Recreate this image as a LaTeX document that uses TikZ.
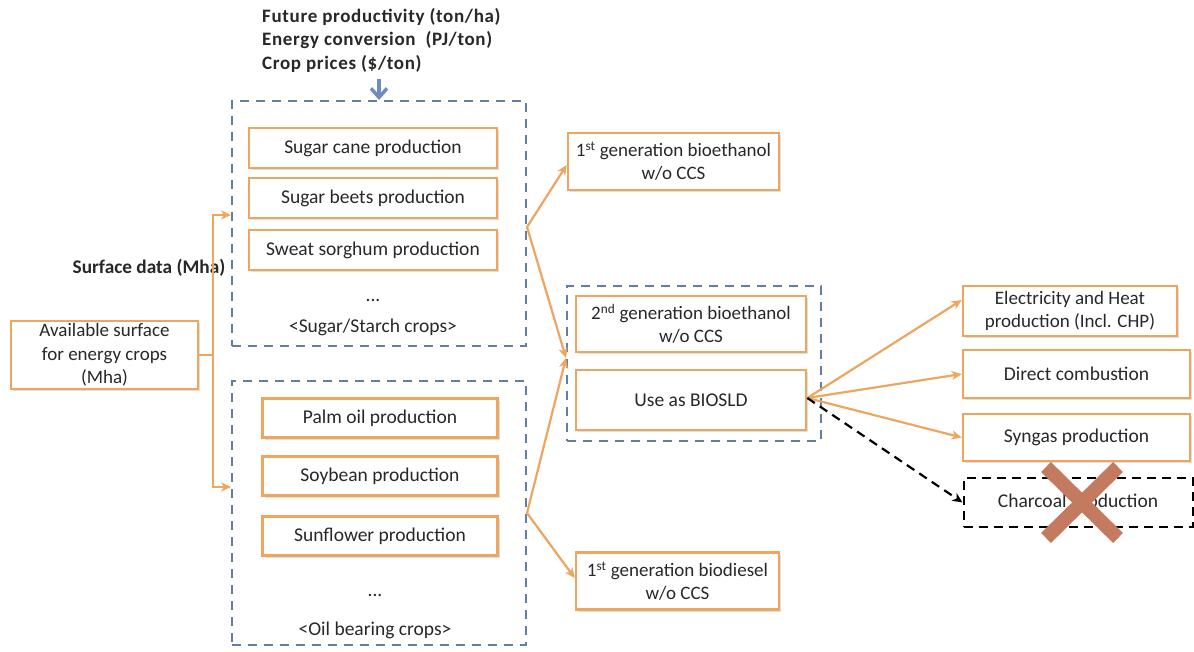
\documentclass[tikz,border=0pt]{standalone}
\usepackage{fontspec}
\setmainfont{Carlito}
\newfontfamily\topfont[LetterSpace=3.5]{Carlito}
\usetikzlibrary{arrows.meta,shadows}
\definecolor{ora}{RGB}{240,165,95}
\definecolor{blu}{RGB}{100,125,165}
\definecolor{blar}{RGB}{110,140,190}
\definecolor{txt}{RGB}{40,40,40}
\definecolor{xcol}{RGB}{195,122,95}
\tikzset{
  ob/.style={draw=ora, line width=2.6pt, fill=white, align=center, text=txt, inner sep=2pt,
    drop shadow={opacity=0.25, shadow xshift=2pt, shadow yshift=-2pt}},
  db/.style={draw=blu, line width=2pt, dash pattern=on 9pt off 7pt},
  oline/.style={draw=ora, line width=2.2pt},
  oarr/.style={oline, -{Stealth[length=10pt,width=9pt,inset=3pt]}},
  karr/.style={draw=black, line width=2.2pt, dash pattern=on 9pt off 6pt, -{Stealth[length=10pt,width=9pt,inset=3pt]}},
  lbl/.style={text=txt, align=center},
}
\begin{document}
\begin{tikzpicture}[x=1pt,y=-1pt, font=\fontsize{19.5}{23.5}\selectfont]
\path[use as bounding box, fill=white] (0,0) rectangle (1194,651);

% top text
\node[anchor=north west, align=left, text=txt, inner sep=0pt, font=\fontsize{19}{23.5}\topfont\bfseries] (topt) at (262,8)
  {Future productivity (ton/ha)\\Energy conversion\ \ (PJ/ton)\\Crop prices (\$/ton)};

% dashed groups
\node[db, minimum width=294pt, minimum height=245pt] (sugar) at (379,223.5) {};
\node[db, minimum width=294pt, minimum height=264pt] (oil) at (379,513) {};
\node[db, minimum width=254pt, minimum height=155pt] (grp3) at (694,363.5) {};

% sugar crops
\node[ob, minimum width=248pt, minimum height=40pt] (cane) at (373,148) {Sugar cane production};
\node[ob, minimum width=248pt, minimum height=40pt] (beet) at (373,198) {Sugar beets production};
\node[ob, minimum width=248pt, minimum height=40pt] (sorg) at (373,250) {Sweat sorghum production};
\node[lbl] (dots1) at (373,300) {...};
\node[lbl] (sgl) at (373,327) {<Sugar/Starch crops>};

% oil crops
\node[ob, minimum width=235pt, minimum height=39pt] (palm) at (380,418) {Palm oil production};
\node[ob, minimum width=235pt, minimum height=39pt] (soy) at (380,476) {Soybean production};
\node[ob, minimum width=235pt, minimum height=39pt] (sun) at (380,536) {Sunflower production};
\node[lbl] (dots2) at (375,595) {...};
\node[lbl] (oll) at (375,630) {<Oil bearing crops>};

% left
\node[anchor=center, text=txt, font=\fontsize{19.3}{22}\selectfont\bfseries] (surf) at (149,268) {Surface data (Mha)};
\node[ob, minimum width=187pt, minimum height=68pt, font=\fontsize{19}{23.5}\selectfont] (avail) at (104.5,355) {Available surface\\for energy crops\\(Mha)};

% middle
\node[ob, minimum width=211pt, minimum height=57pt, font=\fontsize{19}{23}\selectfont] (eth1) at (673.5,161.5) {1\textsuperscript{st} generation bioethanol\\w/o CCS};
\node[ob, minimum width=230pt, minimum height=56pt, font=\fontsize{19}{23}\selectfont] (eth2) at (691,324) {2\textsuperscript{nd} generation bioethanol\\w/o CCS};
\node[ob, minimum width=230pt, minimum height=60pt] (bsld) at (691,400) {Use as BIOSLD};
\node[ob, minimum width=203pt, minimum height=57pt, font=\fontsize{19}{23}\selectfont] (dies) at (677.5,581) {1\textsuperscript{st} generation biodiesel\\w/o CCS};

% right
\node[ob, minimum width=214pt, minimum height=50pt, font=\fontsize{19}{22.5}\selectfont] (elec) at (1070,311) {Electricity and Heat\\production (Incl. CHP)};
\node[ob, minimum width=227pt, minimum height=48pt] (comb) at (1076.5,374) {Direct combustion};
\node[ob, minimum width=227pt, minimum height=47pt] (syng) at (1076.5,437.5) {Syngas production};
\node[draw=black, line width=2pt, dash pattern=on 9pt off 6pt, fill=white, text=txt, minimum width=229pt, minimum height=49pt] (char) at (1078,502.5) {Charcoal production};

% cross
\draw[xcol, line width=14pt] (1046,467) -- (1118,538);
\draw[xcol, line width=14pt] (1118,467) -- (1046,538);

% blue input arrow
\draw[draw=blar, line width=3.5pt, -{Straight Barb[length=9pt,width=16pt]}] (sugar.north |- 0,79) -- (sugar.north);

% left connectors
\coordinate (j) at (213,355);
\draw[oline] (avail.east) -- (j);
\draw[oarr] (j) |- (sugar.west |- 0,215);
\draw[oarr] (j) |- (oil.west |- 0,487);

% sugar branch
\coordinate (sb) at (sugar.east |- 0,227);
\draw[oarr] (sb) -- (eth1.west |- 0,165);
\draw[oarr] (sb) -- (grp3.west |- 0,358);

% oil branch
\coordinate (obr) at (oil.east);
\draw[oarr] (obr) -- (grp3.west |- 0,358);
\draw[oarr] (obr) -- (dies.west |- 0,578);

% right connectors
\coordinate (bs) at (bsld.east |- 0,398);
\draw[oarr] (bs) -- (elec.west |- 0,300);
\draw[oarr] (bs) -- (comb.west);
\draw[oarr] (bs) -- (syng.west);
\draw[karr] (bs) -- (char.west);
\end{tikzpicture}
\end{document}
